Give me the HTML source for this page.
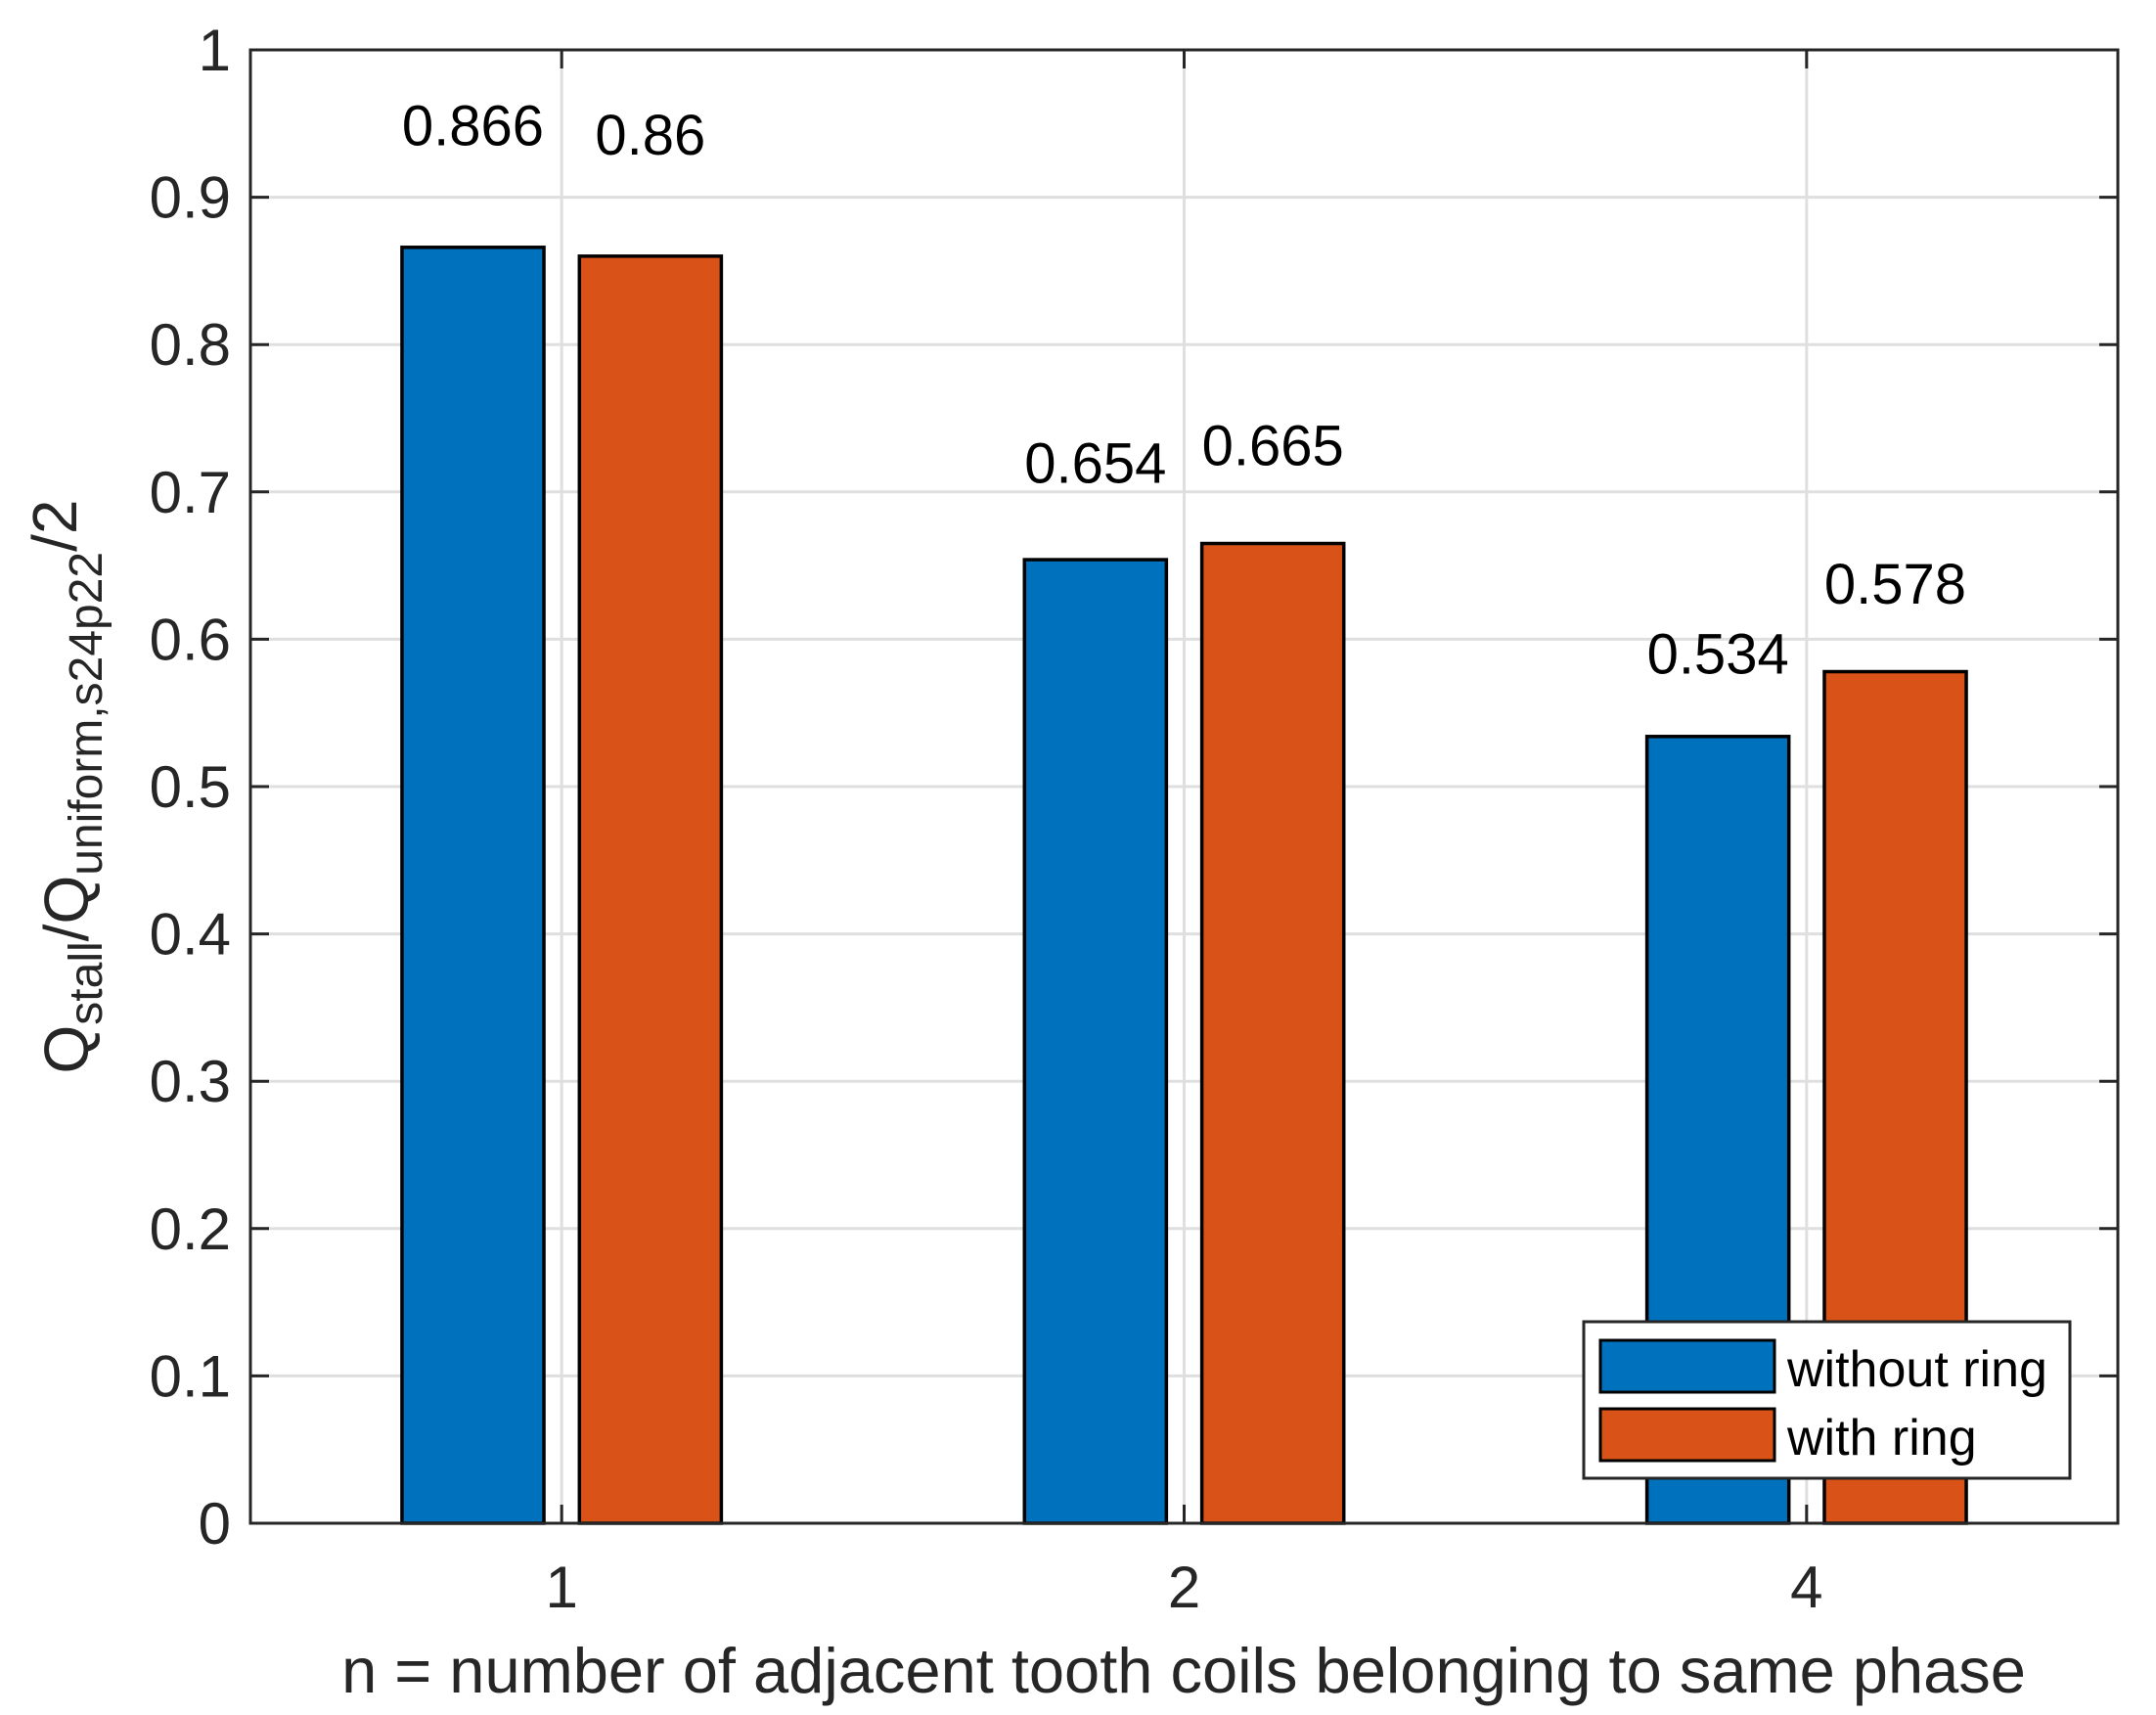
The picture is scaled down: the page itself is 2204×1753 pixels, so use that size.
<!DOCTYPE html>
<html><head><meta charset="utf-8"><style>
html,body{margin:0;padding:0;background:#fff}
svg{display:block;font-family:"Liberation Sans",Arial,sans-serif}
</style></head><body>
<svg id="chart" width="2204" height="1753" viewBox="0 0 2204 1753" xmlns="http://www.w3.org/2000/svg">
<rect x="0" y="0" width="2204" height="1753" fill="#fff"/>
<g id="grid"></g>
<g id="bars"></g>
<g id="labels"></g>
<g id="axes"></g>
<text x="1210" y="1730" font-size="65" fill="#262626" text-anchor="middle">n = number of adjacent tooth coils belonging to same phase</text>
<text transform="translate(90,804) rotate(-90)" font-size="64" fill="#262626" text-anchor="middle">Q<tspan font-size="48" dy="14">stall</tspan><tspan dy="-14">/Q</tspan><tspan font-size="48" dy="14">uniform,s24p22</tspan><tspan dy="-26">/2</tspan></text>
<g>
<rect x="1619" y="1351" width="497" height="160" fill="#fff" stroke="#262626" stroke-width="3"/>
<rect x="1636" y="1370" width="178" height="53" fill="#0072BD" stroke="#000" stroke-width="3"/>
<text x="1827" y="1417" font-size="52" fill="#000">without ring</text>
<rect x="1636" y="1440" width="178" height="53" fill="#D95319" stroke="#000" stroke-width="3"/>
<text x="1827" y="1487" font-size="52" fill="#000">with ring</text>
</g>
</svg>
<script>
const categories = ['1', '2', '4'];
const seriesNames = ['without ring', 'with ring'];
const withoutRing = [0.866, 0.654, 0.534];
const withRing = [0.86, 0.665, 0.578];
const yTicks = [0, 0.1, 0.2, 0.3, 0.4, 0.5, 0.6, 0.7, 0.8, 0.9, 1];
const yTickLabels = ['0', '0.1', '0.2', '0.3', '0.4', '0.5', '0.6', '0.7', '0.8', '0.9', '1'];

const NS = 'http://www.w3.org/2000/svg';
const L = 256, R = 2165, T = 51, B = 1557;
const xScale = i => L + (i + 0.5) / categories.length * (R - L);
const yScale = v => B - v * (B - T);
const band = (R - L) / categories.length;
const barW = band * 0.228, barOff = band * 0.1425;
function mk(tag, attrs, parent) {
  const e = document.createElementNS(NS, tag);
  for (const k in attrs) e.setAttribute(k, attrs[k]);
  parent.appendChild(e);
  return e;
}
const grid = document.getElementById('grid');
const bars = document.getElementById('bars');
const labels = document.getElementById('labels');
const axes = document.getElementById('axes');

yTicks.forEach((v, i) => {
  if (v > 0 && v < 1) {
    const g = mk('line', {x1: L, x2: R, y1: yScale(v), y2: yScale(v), stroke: '#dfdfdf', 'stroke-width': 3}, grid);
    
    
  }
});
categories.forEach((c, i) => {
  const g = mk('line', {x1: xScale(i), x2: xScale(i), y1: T, y2: B, stroke: '#dfdfdf', 'stroke-width': 3}, grid);
  
  
});

const series = [withoutRing, withRing];
const colors = ['#0072BD', '#D95319'];
series.forEach((vals, s) => {
  vals.forEach((v, i) => {
    const cx = xScale(i) + (s === 0 ? -barOff : barOff);
    const r = mk('rect', {x: cx - barW / 2, y: yScale(v), width: barW, height: B - yScale(v), fill: colors[s], stroke: '#000', 'stroke-width': 3.5}, bars);
    
    
    const t = mk('text', {x: cx, y: yScale(v * 1.08), 'font-size': 58, 'text-anchor': 'middle', fill: '#000'}, labels);
    
    
    t.textContent = String(v);
  });
});

yTicks.forEach((v, i) => {
  const y = yScale(v);
  const a = mk('line', {x1: L, x2: L + 19, y1: y, y2: y, stroke: '#262626', 'stroke-width': 3}, axes);
  
  
  const b = mk('line', {x1: R, x2: R - 19, y1: y, y2: y, stroke: '#262626', 'stroke-width': 3}, axes);
  
  
  const t = mk('text', {x: 236, y: y + 21, 'font-size': 60, 'text-anchor': 'end', fill: '#262626'}, axes);
  
  
  t.textContent = yTickLabels[i];
});
categories.forEach((c, i) => {
  const x = xScale(i);
  const a = mk('line', {x1: x, x2: x, y1: B, y2: B - 19, stroke: '#262626', 'stroke-width': 3}, axes);
  
  
  const b = mk('line', {x1: x, x2: x, y1: T, y2: T + 19, stroke: '#262626', 'stroke-width': 3}, axes);
  
  
  const t = mk('text', {x: x, y: 1643, 'font-size': 60, 'text-anchor': 'middle', fill: '#262626'}, axes);
  
  
  t.textContent = c;
});
const box = mk('rect', {x: L, y: T, width: R - L, height: B - T, fill: 'none', stroke: '#262626', 'stroke-width': 3}, axes);


</script>
</body></html>
